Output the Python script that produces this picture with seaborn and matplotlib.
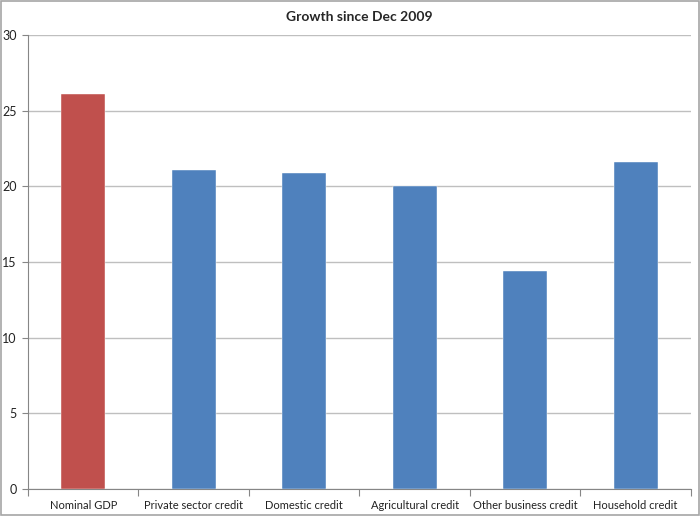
import pandas as pd
import numpy as np
import matplotlib
matplotlib.use("Agg")
import matplotlib.pyplot as plt
import seaborn as sns

categories = ["Nominal GDP", "Private sector credit", "Domestic credit",
              "Agricultural credit", "Other business credit", "Household credit"]
growth = [26.1, 21.1, 20.9, 20.0, 14.4, 21.6]
bar_colors = ["#C0504D", "#4F81BD", "#4F81BD", "#4F81BD", "#4F81BD", "#4F81BD"]

df = pd.DataFrame({"category": categories, "growth": growth})

sns.set_style("white")
plt.rcParams["font.family"] = ["Lato", "DejaVu Sans"]

fig = plt.figure(figsize=(7, 5.16), dpi=100)
ax = fig.add_axes([0.04, 0.052, 0.947, 0.88])

sns.barplot(data=df, x="category", y="growth", hue="category",
            palette=bar_colors, width=0.4, saturation=1, legend=False,
            edgecolor="#FFFFFF", linewidth=0.3, ax=ax, zorder=3)

ax.set_ylim(0, 30)
ax.set_xlim(-0.5, len(categories) - 0.5)
ax.set_yticks(range(0, 31, 5))
ax.yaxis.grid(True, color="#BFBFBF", linewidth=1, zorder=0)
ax.set_axisbelow(True)

ax.set_xlabel("")
ax.set_ylabel("")
ax.set_title("Growth since Dec 2009", fontsize=10, fontweight="bold", pad=10)

for side in ["top", "right"]:
    ax.spines[side].set_visible(False)
for side in ["left", "bottom"]:
    ax.spines[side].set_color("#868686")
    ax.spines[side].set_linewidth(0.8)

ax.tick_params(axis="y", length=4, width=0.8, color="#868686", labelsize=9,
               labelcolor="#222222", pad=4, left=True)
ax.tick_params(axis="x", which="major", length=0, labelsize=8,
               labelcolor="#222222", pad=8)
ax.set_xticks(np.arange(-0.5, len(categories), 1), minor=True)
ax.tick_params(axis="x", which="minor", length=5, width=0.8, color="#868686",
               bottom=True)

# grey outline round the whole chart, like the Excel chart area
fig.patches.append(plt.Rectangle((0.001, 0.001), 0.998, 0.997, transform=fig.transFigure,
                                 fill=False, edgecolor="#A6A6A6", linewidth=1.2))

fig.savefig("out.png", dpi=100)
